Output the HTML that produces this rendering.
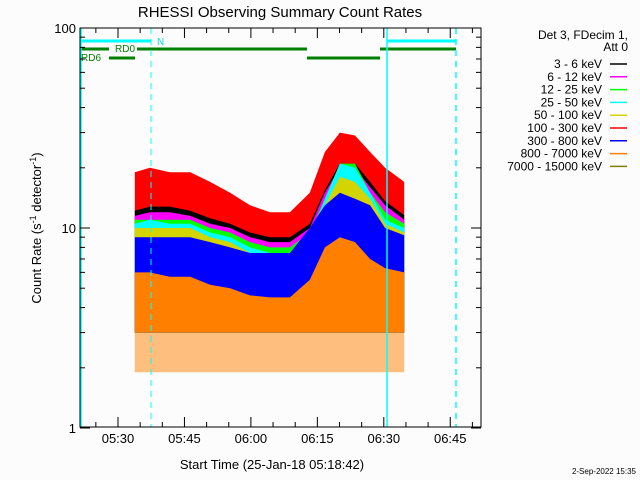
<!DOCTYPE html>
<html><head><meta charset="utf-8"><style>
body{margin:0;background:#fcfcfc;}
svg{display:block;font-family:"Liberation Sans",sans-serif;}
</style></head><body>
<svg id="c" width="640" height="480" viewBox="0 0 640 480">
<rect width="640" height="480" fill="#fcfcfc"/>
<text x="280" y="17" font-size="15" text-anchor="middle">RHESSI Observing Summary Count Rates</text>
<g id="plot"></g>
<g id="axes"></g>
<text x="272" y="469" font-size="13" text-anchor="middle">Start Time (25-Jan-18 05:18:42)</text>
<text transform="translate(41,228) rotate(-90)" font-size="13" text-anchor="middle">Count Rate (s<tspan font-size="9" dy="-5">-1</tspan><tspan dy="5"> detector</tspan><tspan font-size="9" dy="-5">-1</tspan><tspan dy="5">)</tspan></text>
<g id="legend"></g>
<text x="636" y="474" font-size="8" text-anchor="end">2-Sep-2022 15:35</text>
</svg>
<script>
const times=[3.8,7.2,11.7,16.3,20.8,25.3,29.8,34.3,38.8,43.3,46.7,50.1,53.5,56.9,60.3,64.6];
const redHi=[19,20,19,19,17,15,13,12,12,15,24,30,29,24,20,17];
const blackHi=[12.2,12.8,12.8,12.2,11.2,10.5,9.5,9,9,10.5,15.5,21,21,17,13.6,11.6];
const magentaHi=[11.5,12,12,11.5,10.5,10,9,8.5,8.5,10,15,20,20,16,13,11];
const greenHi=[11,11,11,11,10,9.5,8.5,8,8,9.5,14,21,21,15,12,10.5];
const cyanHi=[10.5,11,10.5,10.5,9.5,9,8,7.5,7.5,9,14,21,20,15,11,10];
const yellowHi=[10,10,10,10,9,8.5,7.5,7,7,8.5,13,18,17,14,10.5,9.5];
const blueHi=[9,9,9,9,8.5,8,7.5,7.5,7.5,10,13,15,14,13,10,9.2];
const orangeHi=[6,6,5.7,5.7,5.2,5,4.6,4.5,4.5,5.5,8,9,8.5,7,6.3,6];
const baseLo=[3,3,3,3,3,3,3,3,3,3,3,3,3,3,3,3];
const legendLabels=["3 - 6 keV","6 - 12 keV","12 - 25 keV","25 - 50 keV","50 - 100 keV","100 - 300 keV","300 - 800 keV","800 - 7000 keV","7000 - 15000 keV"];
const legendColors=["#000000","#ff00ff","#00ff00","#00ffff","#d4d400","#ff0000","#0000ff","#ff8000","#808000"];
const xTickLabels=["05:30","05:45","06:00","06:15","06:30","06:45"];
const xTickMinutes=[0,15,30,45,60,75];

const NS="http://www.w3.org/2000/svg";
function X(t){return 118+4.43*t;}
function Y(v){return 428-200*Math.log10(v);}
function mk(tag,attrs,parent){const e=document.createElementNS(NS,tag);for(const k in attrs)e.setAttribute(k,attrs[k]);parent.appendChild(e);return e;}
const plot=document.getElementById('plot'),axes=document.getElementById('axes'),leg=document.getElementById('legend');

// orange low tail (sparse spikes)
{
  let pts=[];
  for(let i=0;i<times.length;i++)pts.push(X(times[i]).toFixed(1)+","+Y(baseLo[i]).toFixed(1));
  pts.push(X(times[times.length-1]).toFixed(1)+","+Y(1.9));
  pts.push(X(times[0]).toFixed(1)+","+Y(1.9));
  const p=mk('polygon',{points:pts.join(" "),fill:"#ff8000","fill-opacity":"0.5"},plot);
  
  
}
const series=[["band-100-300",redHi,"#ff0000"],["band-3-6",blackHi,"#000000"],["band-6-12",magentaHi,"#ff00ff"],["band-12-25",greenHi,"#00ff00"],["band-25-50",cyanHi,"#00ffff"],["band-50-100",yellowHi,"#d4d400"],["band-300-800",blueHi,"#0000ff"],["band-800-7000",orangeHi,"#ff8000"]];
series.forEach(s=>{
  let pts=[];
  for(let i=0;i<times.length;i++)pts.push(X(times[i]).toFixed(1)+","+Y(s[1][i]).toFixed(1));
  for(let i=times.length-1;i>=0;i--)pts.push(X(times[i]).toFixed(1)+","+Y(baseLo[i]).toFixed(1));
  const p=mk('polygon',{points:pts.join(" "),fill:s[2]},plot);
  
  
});

function ln(x1,y1,x2,y2,st,w,dash,name){const l=mk('line',{x1,y1,x2,y2,stroke:st,'stroke-width':w},axes);if(dash)l.setAttribute('stroke-dasharray',dash);return l;}
ln(80,41,151,41,"#00ffff",3,null,"night-bar");
ln(387,41,456,41,"#00ffff",3,null,"night-bar");
ln(80,49,109,49,"#008000",3,null,"rd0-bar");
ln(137,49,307,49,"#008000",3,null,"rd0-bar");
ln(380,49,456,49,"#008000",3,null,"rd0-bar");
ln(109,58,135,58,"#008000",3,null,"rd6-bar");
ln(307,58,380,58,"#008000",3,null,"rd6-bar");
ln(81,28,81,427,"#00ffff",1.5,null,"saa-line");
ln(387,28,387,427,"#00ffff",1.5,null,"saa-line");
ln(151,28,151,427,"#00ffff",1,"6,5","night-dashed-line");
ln(456,28,456,427,"#00ffff",1.5,"6,5","night-dashed-line");
let t;
t=mk('text',{x:157,y:45,'font-size':10,fill:"#00e0e0"},axes);t.textContent="N";
t=mk('text',{x:115,y:52,'font-size':10,fill:"#008000"},axes);t.textContent="RD0";
t=mk('text',{x:81,y:61,'font-size':10,fill:"#008000"},axes);t.textContent="RD6";

const fr=mk('rect',{x:80,y:28,width:401,height:399,fill:"none",stroke:"#000","stroke-width":1},axes);

[1,10,100].forEach(v=>{
  ln(80,Y(v),90,Y(v),"#000",1,null,"y-major-tick");ln(471,Y(v),481,Y(v),"#000",1,null,"y-major-tick");
  const tx=mk('text',{x:76,y:Y(v)+5,'font-size':13,'text-anchor':'end'},axes);tx.textContent=String(v);
  
});
[1,10].forEach(d=>{for(let m=2;m<10;m++){const y=Y(d*m);ln(80,y,85,y,"#000",1,null,"y-minor-tick");ln(476,y,481,y,"#000",1,null,"y-minor-tick");}});
for(let m=-5;m<=80;m+=5){const x=X(m);if(x<80||x>481)continue;const major=m%15===0;ln(x,427,x,major?417:422,"#000",1,null,"x-tick");ln(x,28,x,major?38:33,"#000",1,null,"x-tick");}
xTickMinutes.forEach((m,i)=>{const tx=mk('text',{x:X(m),y:443,'font-size':13,'text-anchor':'middle'},axes);tx.textContent=xTickLabels[i];});

t=mk('text',{x:628,y:39,'font-size':12,'text-anchor':'end'},leg);t.textContent="Det 3, FDecim 1,";
t=mk('text',{x:628,y:51,'font-size':12,'text-anchor':'end'},leg);t.textContent="Att 0";
legendLabels.forEach((lab,i)=>{
  const y=64+i*12.8;
  const tx=mk('text',{x:602,y:y+4,'font-size':12,'text-anchor':'end'},leg);tx.textContent=lab;
  
  const l=mk('line',{x1:610,y1:y,x2:627,y2:y,stroke:legendColors[i],'stroke-width':1.5},leg);
  
});
</script>
</body></html>
